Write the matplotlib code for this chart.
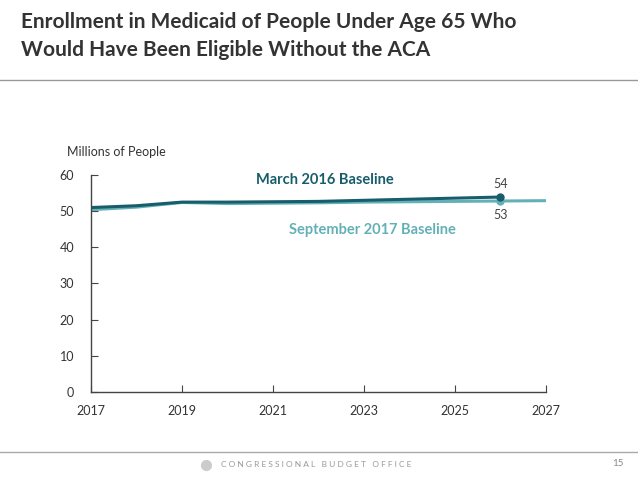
import matplotlib.pyplot as plt

# data
years_mar = [2017, 2018, 2019, 2020, 2021, 2022, 2023, 2024, 2025, 2026]
mar2016 = [51.0, 51.5, 52.5, 52.5, 52.6, 52.7, 53.0, 53.3, 53.6, 53.9]
years_sep = [2017, 2018, 2019, 2020, 2021, 2022, 2023, 2024, 2025, 2026, 2027]
sep2017 = [50.4, 51.1, 52.4, 52.1, 52.2, 52.3, 52.5, 52.6, 52.7, 52.8, 52.9]
xticks = [2017, 2019, 2021, 2023, 2025, 2027]
yticks = [0, 10, 20, 30, 40, 50, 60]

dark = "#185d6c"
light = "#63b1b7"
plt.rcParams["font.family"] = ["Lato", "DejaVu Sans"]

fig = plt.figure(figsize=(6.38, 4.79), dpi=100)
ax = fig.add_axes([0.1426, 0.1816, 0.7132, 0.4531])

ax.plot(years_sep, sep2017, color=light, lw=2.2, solid_capstyle="butt")
ax.plot(years_mar, mar2016, color=dark, lw=2.2, solid_capstyle="butt")
ax.plot(years_sep[9], sep2017[9], "o", color=light, ms=5)
ax.plot(years_mar[-1], mar2016[-1], "o", color=dark, ms=5)

ax.set_xlim(2017, 2027)
ax.set_ylim(0, 60)
ax.set_xticks(xticks)
ax.set_yticks(yticks)
for s in ["top", "right"]:
    ax.spines[s].set_visible(False)
for s in ["left", "bottom"]:
    ax.spines[s].set_color("#444444")
    ax.spines[s].set_linewidth(1)
ax.tick_params(axis="both", direction="in", length=5, color="#444444",
               labelsize=9, labelcolor="#333333")
ax.tick_params(axis="x", pad=9)
ax.tick_params(axis="y", pad=12)

ax.text(2016.47, 66.4, "Millions of People", fontsize=9, color="#333333",
        ha="left", va="center")
ax.text(2022.14, 58.6, "March 2016 Baseline", fontsize=10.5, fontweight="bold",
        color=dark, ha="center", va="center")
ax.text(2023.18, 44.8, "September 2017 Baseline", fontsize=10.5, fontweight="bold",
        color=light, ha="center", va="center")
ax.text(2026, 57.6, "54", fontsize=9, color="#444444", ha="center", va="center")
ax.text(2026, 49.0, "53", fontsize=9, color="#444444", ha="center", va="center")

# title and slide frame
fig.text(0.033, 0.955, "Enrollment in Medicaid of People Under Age 65 Who",
         fontsize=15, fontweight="bold", color="#333333", va="center")
fig.text(0.033, 0.895, "Would Have Been Eligible Without the ACA",
         fontsize=15, fontweight="bold", color="#333333", va="center")
fig.add_artist(plt.Line2D([0, 1], [0.833, 0.833], color="#999999", lw=1))
fig.add_artist(plt.Line2D([0, 1], [0.056, 0.056], color="#aaaaaa", lw=1))
fig.add_artist(plt.Line2D([0.323], [0.030], marker="o", ms=7, color="#cccccc"))
fig.text(0.347, 0.030, "C O N G R E S S I O N A L   B U D G E T   O F F I C E",
         fontsize=6.0, color="#999999", va="center")
fig.text(0.968, 0.033, "15", fontsize=7, color="#888888", ha="center", va="center")

plt.savefig("out.png", dpi=100)
